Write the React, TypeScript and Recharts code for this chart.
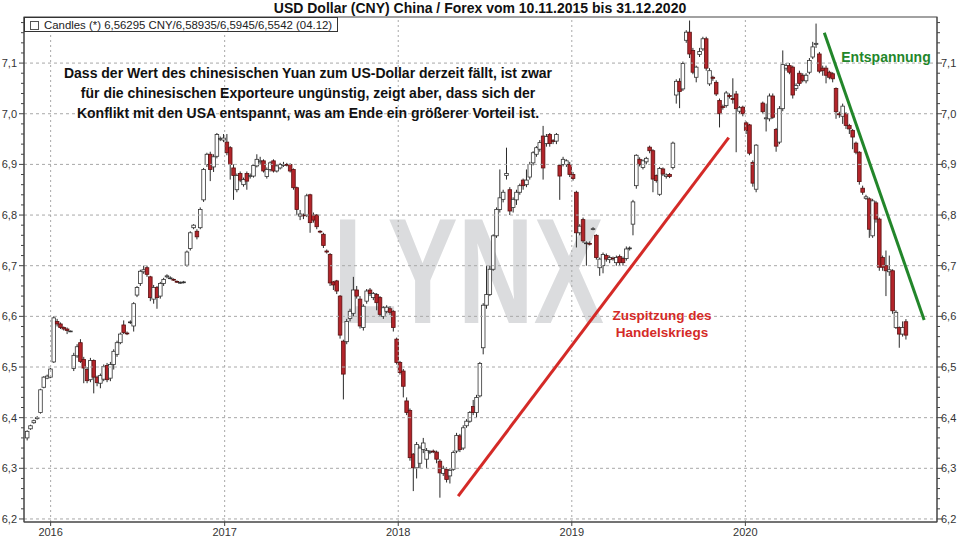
import React from 'react';
import { ComposedChart, Bar, XAxis, YAxis, ReferenceLine } from 'recharts';

// weekly candles [open, high, low, close], first week ends 13.11.2015
type Candle = [number, number, number, number] | null;

const START = Date.UTC(2015, 10, 13);
const WEEK = 7 * 86400000;

const W2015: Candle[] = [
  [6.36, 6.375, 6.355, 6.373], [6.378, 6.386, 6.376, 6.384], [6.39, 6.396, 6.388, 6.394],
  [6.398, 6.403, 6.396, 6.4], [6.41, 6.457, 6.408, 6.455], [6.46, 6.482, 6.458, 6.48],
  [6.478, 6.485, 6.476, 6.482],
];

const W2016: Candle[] = [
  [6.48, 6.498, 6.478, 6.496], [6.51, 6.6, 6.508, 6.597], [6.59, 6.595, 6.58, 6.585],
  [6.585, 6.588, 6.575, 6.578], [6.578, 6.58, 6.572, 6.575], [6.575, 6.578, 6.565, 6.572],
  [6.57, 6.572, 6.569, 6.571], [6.497, 6.528, 6.492, 6.523], [6.522, 6.545, 6.518, 6.54],
  [6.548, 6.555, 6.508, 6.511], [6.515, 6.52, 6.468, 6.498], [6.495, 6.5, 6.468, 6.473],
  [6.475, 6.518, 6.47, 6.513], [6.513, 6.515, 6.448, 6.48], [6.48, 6.483, 6.462, 6.469],
  [6.468, 6.487, 6.458, 6.483], [6.476, 6.505, 6.472, 6.501], [6.503, 6.508, 6.47, 6.475],
  [6.478, 6.51, 6.472, 6.505], [6.505, 6.535, 6.495, 6.531], [6.525, 6.552, 6.52, 6.548],
  [6.548, 6.568, 6.545, 6.565], [6.583, 6.592, 6.565, 6.568], [6.567, 6.57, 6.563, 6.566],
  [6.588, 6.592, 6.585, 6.589], [6.581, 6.628, 6.57, 6.625], [6.642, 6.66, 6.638, 6.657],
  [6.665, 6.692, 6.66, 6.689], [6.688, 6.7, 6.684, 6.692], [6.696, 6.7, 6.678, 6.683],
  [6.678, 6.68, 6.63, 6.637], [6.634, 6.662, 6.625, 6.657], [6.657, 6.66, 6.615, 6.637],
  [6.64, 6.668, 6.635, 6.665], [6.665, 6.676, 6.66, 6.673], [6.678, 6.683, 6.675, 6.68],
  [6.675, 6.679, 6.673, 6.676], [6.673, 6.675, 6.67, 6.672], [6.669, 6.671, 6.666, 6.668],
  [6.667, 6.669, 6.664, 6.667], [6.667, 6.67, 6.665, 6.668], [6.701, 6.73, 6.698, 6.727],
  [6.734, 6.768, 6.73, 6.765], [6.775, 6.782, 6.772, 6.78], [6.768, 6.772, 6.752, 6.757],
  [6.775, 6.815, 6.772, 6.811], [6.83, 6.893, 6.826, 6.89], [6.9, 6.923, 6.895, 6.92],
  [6.92, 6.925, 6.867, 6.89], [6.895, 6.92, 6.885, 6.915], [6.916, 6.962, 6.912, 6.959],
  [6.95, 6.955, 6.946, 6.951],
];

const W2017: Candle[] = [
  [6.948, 6.96, 6.944, 6.952], [6.944, 6.96, 6.918, 6.923], [6.933, 6.936, 6.87, 6.9],
  [6.893, 6.9, 6.83, 6.878], [6.85, 6.882, 6.845, 6.878], [6.882, 6.886, 6.865, 6.869],
  [6.86, 6.874, 6.856, 6.87], [6.882, 6.886, 6.85, 6.867], [6.876, 6.882, 6.872, 6.878],
  [6.877, 6.9, 6.874, 6.898], [6.897, 6.92, 6.894, 6.91], [6.905, 6.915, 6.9, 6.907],
  [6.907, 6.91, 6.884, 6.887], [6.876, 6.894, 6.872, 6.89], [6.89, 6.906, 6.886, 6.903],
  [6.907, 6.91, 6.884, 6.887], [6.887, 6.9, 6.884, 6.897], [6.893, 6.903, 6.89, 6.9],
  [6.898, 6.905, 6.895, 6.9], [6.9, 6.903, 6.896, 6.899], [6.9, 6.902, 6.884, 6.887],
  [6.89, 6.892, 6.85, 6.854], [6.854, 6.856, 6.8, 6.811], [6.798, 6.81, 6.79, 6.802],
  [6.8, 6.803, 6.792, 6.799], [6.8, 6.842, 6.796, 6.838], [6.84, 6.842, 6.765, 6.785],
  [6.8, 6.805, 6.785, 6.79], [6.8, 6.802, 6.772, 6.777], [6.768, 6.77, 6.764, 6.767],
  [6.762, 6.765, 6.735, 6.74], [6.729, 6.732, 6.724, 6.727], [6.722, 6.725, 6.66, 6.666],
  [6.668, 6.67, 6.652, 6.662], [6.67, 6.672, 6.644, 6.65], [6.64, 6.642, 6.556, 6.563],
  [6.551, 6.554, 6.436, 6.486], [6.55, 6.595, 6.545, 6.59], [6.596, 6.615, 6.59, 6.61],
  [6.606, 6.678, 6.6, 6.652], [6.652, 6.66, 6.635, 6.64], [6.634, 6.64, 6.576, 6.581],
  [6.578, 6.624, 6.572, 6.62], [6.63, 6.654, 6.625, 6.65], [6.652, 6.656, 6.64, 6.645],
  [6.637, 6.648, 6.632, 6.645], [6.643, 6.646, 6.612, 6.627], [6.637, 6.64, 6.6, 6.604],
  [6.6, 6.62, 6.595, 6.617], [6.61, 6.622, 6.606, 6.618], [6.615, 6.62, 6.603, 6.608],
  [6.61, 6.612, 6.57, 6.578],
];

const W2018: Candle[] = [
  [6.555, 6.558, 6.505, 6.509], [6.509, 6.512, 6.485, 6.489], [6.492, 6.496, 6.44, 6.462],
  [6.433, 6.44, 6.405, 6.41], [6.414, 6.418, 6.315, 6.321], [6.328, 6.33, 6.255, 6.301],
  [6.301, 6.352, 6.28, 6.347], [6.31, 6.345, 6.3, 6.34], [6.337, 6.36, 6.33, 6.35],
  [6.318, 6.34, 6.3, 6.335], [6.332, 6.336, 6.328, 6.333], [6.334, 6.337, 6.33, 6.333],
  [6.332, 6.335, 6.31, 6.318], [6.314, 6.318, 6.242, 6.291], [6.29, 6.305, 6.285, 6.3],
  [6.298, 6.302, 6.272, 6.278], [6.285, 6.3, 6.27, 6.296], [6.298, 6.335, 6.295, 6.331],
  [6.334, 6.37, 6.33, 6.365], [6.364, 6.368, 6.332, 6.337], [6.34, 6.385, 6.336, 6.38],
  [6.384, 6.397, 6.38, 6.393], [6.393, 6.413, 6.39, 6.41], [6.422, 6.435, 6.405, 6.41],
  [6.41, 6.445, 6.4, 6.44], [6.443, 6.51, 6.44, 6.507], [6.538, 6.626, 6.525, 6.622],
  [6.622, 6.7, 6.615, 6.643], [6.643, 6.7, 6.64, 6.693], [6.693, 6.762, 6.69, 6.759],
  [6.759, 6.815, 6.755, 6.811], [6.811, 6.89, 6.805, 6.834], [6.831, 6.85, 6.825, 6.845],
  [6.878, 6.933, 6.87, 6.882], [6.85, 6.855, 6.8, 6.808], [6.815, 6.835, 6.805, 6.831],
  [6.83, 6.85, 6.82, 6.845], [6.845, 6.862, 6.84, 6.858], [6.869, 6.872, 6.85, 6.858],
  [6.86, 6.89, 6.855, 6.869], [6.875, 6.905, 6.87, 6.9], [6.903, 6.926, 6.898, 6.923],
  [6.92, 6.936, 6.915, 6.933], [6.93, 6.948, 6.925, 6.943], [6.956, 6.976, 6.87, 6.893],
  [6.941, 6.96, 6.935, 6.955], [6.959, 6.962, 6.935, 6.941], [6.947, 6.95, 6.94, 6.945],
  [6.946, 6.962, 6.94, 6.959], [6.898, 6.9, 6.83, 6.877], [6.9, 6.915, 6.896, 6.91],
  [6.9, 6.91, 6.895, 6.907], [6.9, 6.905, 6.875, 6.88],
];

const W2019: Candle[] = [
  [6.88, 6.885, 6.868, 6.872], [6.845, 6.848, 6.736, 6.765], [6.765, 6.782, 6.76, 6.778],
  [6.791, 6.795, 6.745, 6.749], [6.744, 6.748, 6.7, 6.745], [6.744, 6.748, 6.74, 6.743],
  [6.772, 6.776, 6.77, 6.773], [6.76, 6.762, 6.712, 6.716], [6.696, 6.716, 6.68, 6.713],
  [6.7, 6.726, 6.685, 6.722], [6.72, 6.724, 6.708, 6.713], [6.712, 6.72, 6.705, 6.716],
  [6.715, 6.718, 6.71, 6.714], [6.706, 6.72, 6.7, 6.716], [6.718, 6.722, 6.7, 6.706],
  [6.714, 6.718, 6.7, 6.706], [6.714, 6.738, 6.71, 6.733], [6.734, 6.738, 6.73, 6.735],
  [6.782, 6.83, 6.76, 6.826], [6.858, 6.92, 6.852, 6.918], [6.91, 6.914, 6.896, 6.9],
  [6.894, 6.91, 6.89, 6.907], [6.905, 6.915, 6.9, 6.912], [6.934, 6.937, 6.922, 6.927],
  [6.927, 6.93, 6.845, 6.871], [6.878, 6.88, 6.864, 6.868], [6.841, 6.895, 6.838, 6.892],
  [6.891, 6.894, 6.877, 6.881], [6.876, 6.882, 6.872, 6.879], [6.88, 6.883, 6.873, 6.876],
  [6.894, 6.945, 6.89, 6.942], [7.037, 7.068, 7.02, 7.064], [7.064, 7.07, 7.011, 7.044],
  [7.049, 7.103, 7.045, 7.099], [7.145, 7.165, 7.14, 7.161], [7.161, 7.184, 7.11, 7.118],
  [7.125, 7.13, 7.078, 7.082], [7.072, 7.095, 7.062, 7.092], [7.117, 7.13, 7.112, 7.123],
  [7.128, 7.152, 7.124, 7.148], [7.148, 7.152, 7.085, 7.09], [7.059, 7.09, 7.055, 7.085],
  [7.072, 7.075, 7.065, 7.07], [7.062, 7.066, 7.035, 7.039], [7.026, 7.03, 6.973, 7.0],
  [7.014, 7.018, 7.008, 7.013], [7.016, 7.045, 7.012, 7.041], [7.036, 7.04, 7.03, 7.034],
  [7.03, 7.07, 7.02, 7.028], [7.039, 7.045, 6.924, 7.01], [7.005, 7.015, 7.0, 7.012],
  [7.013, 7.016, 6.995, 7.0],
];

const W2020: Candle[] = [
  [6.982, 6.985, 6.96, 6.967], [6.978, 6.98, 6.918, 6.922], [6.904, 6.908, 6.856, 6.863],
  [6.851, 6.94, 6.845, 6.938], null, [7.021, 7.024, 7.0, 7.004],
  [6.99, 7.02, 6.965, 6.992], [6.99, 7.04, 6.985, 7.035], [7.035, 7.04, 6.99, 6.993],
  [6.969, 6.972, 6.925, 6.936], [6.944, 7.015, 6.94, 7.01], [7.01, 7.125, 7.005, 7.097],
  [7.09, 7.1, 7.085, 7.095], [7.095, 7.1, 7.078, 7.082], [7.092, 7.095, 7.03, 7.037],
  [7.05, 7.06, 7.045, 7.056], [7.08, 7.085, 7.055, 7.06], [7.076, 7.08, 7.062, 7.066],
  [7.065, 7.08, 7.06, 7.076], [7.082, 7.11, 7.078, 7.105], [7.112, 7.142, 7.108, 7.132],
  [7.137, 7.178, 7.13, 7.139], [7.118, 7.122, 7.08, 7.084], [7.09, 7.095, 7.075, 7.085],
  [7.09, 7.095, 7.06, 7.076], [7.082, 7.085, 7.068, 7.072], [7.079, 7.082, 7.062, 7.069],
  [7.05, 7.052, 6.99, 7.004], [7.0, 7.004, 6.992, 6.998], [6.995, 7.02, 6.98, 7.015],
  [7.0, 7.003, 6.97, 6.977], [6.977, 6.98, 6.96, 6.97], [6.967, 6.97, 6.93, 6.954],
  [6.942, 6.945, 6.92, 6.924], [6.924, 6.926, 6.86, 6.866], [6.853, 6.858, 6.84, 6.845],
  [6.833, 6.84, 6.83, 6.836], [6.832, 6.835, 6.755, 6.772], [6.759, 6.832, 6.755, 6.828],
  [6.824, 6.828, 6.785, 6.792], [6.792, 6.795, 6.69, 6.697], [6.716, 6.72, 6.69, 6.697],
  [6.7, 6.73, 6.64, 6.69], [6.688, 6.72, 6.68, 6.692], [6.69, 6.693, 6.605, 6.611],
  [6.578, 6.612, 6.575, 6.608], [6.578, 6.58, 6.538, 6.565], [6.565, 6.59, 6.56, 6.578],
  [6.58935, 6.5945, 6.5542, 6.56295],
];

const YEARS = [2016, 2017, 2018, 2019, 2020];
const Y_MAJOR = [6.2, 6.3, 6.4, 6.5, 6.6, 6.7, 6.8, 6.9, 7.0, 7.1];
const Y_DOMAIN = [6.194, 7.191];
const X_DOMAIN = [Date.UTC(2015, 10, 6), Date.UTC(2021, 1, 7)];

// annotation lines: [date, value] pairs
const RED_LINE = [[Date.UTC(2018, 4, 7), 6.245], [Date.UTC(2019, 10, 27), 6.953]];
const GREEN_LINE = [[Date.UTC(2020, 5, 15), 7.16], [Date.UTC(2021, 0, 11), 6.593]];

const TEXT_LINES = [
  'Dass der Wert des chinesischen Yuan zum US-Dollar derzeit fällt, ist zwar',
  'für die chinesischen Exporteure ungünstig, zeigt aber, dass sich der',
  'Konflikt mit den USA entspannt, was am Ende ein größerer Vorteil ist.',
];

const rows = [...W2015, ...W2016, ...W2017, ...W2018, ...W2019, ...W2020].map((c, i) => ({
  t: START + i * WEEK,
  o: c ? c[0] : null,
  h: c ? c[1] : null,
  l: c ? c[2] : null,
  c: c ? c[3] : null,
  range: c ? [c[2], c[1]] : null,
}));

const yTicks: number[] = [];
Y_MAJOR.forEach((m) => {
  for (let k = 0; k < 5; k++) {
    const v = Math.round((m + k * 0.02) * 1000) / 1000;
    if (v < Y_DOMAIN[1]) yTicks.push(v);
  }
});

const isMajor = (v: number) => Math.abs(v * 10 - Math.round(v * 10)) < 1e-6;
const fmt = (v: number) => v.toFixed(1).replace('.', ',');
const FONT = '"Liberation Sans", Arial, sans-serif';
const AXIS = '#444';

function CandleShape(props: any) {
  const { x, y, width, height, payload } = props;
  if (!payload || payload.o == null || x == null) return null;
  const { o, h, l, c } = payload;
  const top = Math.min(y, y + height);
  const bot = Math.max(y, y + height);
  const k = (bot - top) / (h - l || 1);
  const py = (v: number) => top + (h - v) * k;
  const cx = x + width / 2;
  const up = c >= o;
  const bTop = py(Math.max(o, c));
  const bBot = py(Math.min(o, c));
  return (
    <g>
      <line x1={cx} x2={cx} y1={top} y2={bot} stroke="#2a2a2a" strokeWidth={1} />
      <rect
        x={cx - 1.8}
        y={bTop}
        width={3.6}
        height={Math.max(bBot - bTop, 0.8)}
        fill={up ? '#ffffff' : '#b3242a'}
        stroke={up ? '#333' : '#5a1212'}
        strokeWidth={0.8}
      />
    </g>
  );
}

function LeftTick(props: any) {
  const { x, y, payload } = props;
  const major = isMajor(payload.value);
  return (
    <g>
      <line x1={x - (major ? 5 : 3)} x2={x} y1={y} y2={y} stroke={AXIS} />
      {major && (
        <text x={x - 7} y={y} dy="0.36em" textAnchor="end" fontSize={11} fill="#333" fontFamily={FONT}>
          {fmt(payload.value)}
        </text>
      )}
    </g>
  );
}

function RightTick(props: any) {
  const { x, y, payload } = props;
  const major = isMajor(payload.value);
  return (
    <g>
      <line x1={x} x2={x + (major ? 5 : 3)} y1={y} y2={y} stroke={AXIS} />
      {major && (
        <text x={x + 4} y={y} dy="0.36em" textAnchor="start" fontSize={11} fill="#333" fontFamily={FONT}>
          {fmt(payload.value)}
        </text>
      )}
    </g>
  );
}

export default function App() {
  return (
    <div style={{ position: 'fixed', left: 0, top: 0, width: 960, height: 540, background: '#fff', overflow: 'hidden', fontFamily: FONT }}>
      {/* watermark below the chart */}
      <svg width={960} height={540} style={{ position: 'absolute', left: 0, top: 0 }}>
        <text x={333} y={323} fontSize={151} fontWeight="bold" fill="#dbdcde" textLength={271} lengthAdjust="spacingAndGlyphs" fontFamily={FONT}>
          LYNX
        </text>
      </svg>

      <div style={{ position: 'absolute', left: 0, top: 0 }}>
        <ComposedChart width={960} height={540} data={rows} margin={{ top: 17, right: 0, bottom: 0, left: 0 }}>
          <XAxis
            xAxisId="x"
            dataKey="t"
            type="number"
            scale="linear"
            domain={X_DOMAIN}
            allowDataOverflow
            ticks={YEARS.map((y) => Date.UTC(y, 0, 1))}
            tickFormatter={(v: number) => String(new Date(v).getUTCFullYear())}
            height={18}
            tickSize={4}
            tickMargin={2}
            interval={0}
            stroke={AXIS}
            tick={{ fontSize: 11, fill: '#333', fontFamily: FONT }}
          />
          <YAxis
            yAxisId="l"
            orientation="left"
            type="number"
            domain={Y_DOMAIN}
            allowDataOverflow
            ticks={yTicks}
            interval={0}
            width={24}
            tickSize={0}
            tickMargin={0}
            tickLine={false}
            stroke={AXIS}
            tick={<LeftTick />}
          />
          <YAxis
            yAxisId="r"
            orientation="right"
            type="number"
            domain={Y_DOMAIN}
            allowDataOverflow
            ticks={yTicks}
            interval={0}
            width={23}
            tickSize={0}
            tickMargin={0}
            tickLine={false}
            stroke={AXIS}
            tick={<RightTick />}
          />

          {Y_MAJOR.map((v) => (
            <ReferenceLine key={'h' + v} xAxisId="x" yAxisId="l" y={v} stroke="#a8a8a8" strokeDasharray="3 3" />
          ))}
          {YEARS.map((y) => (
            <ReferenceLine key={'v' + y} xAxisId="x" yAxisId="l" x={Date.UTC(y, 0, 1)} stroke="#a8a8a8" strokeDasharray="2 3" />
          ))}

          <Bar
            xAxisId="x"
            yAxisId="l"
            dataKey="range"
            barSize={3}
            shape={<CandleShape />}
            isAnimationActive={false}
          />

          <ReferenceLine
            xAxisId="x"
            yAxisId="l"
            segment={RED_LINE.map(([x, y]) => ({ x, y }))}
            stroke="#d42a27"
            strokeWidth={3}
            ifOverflow="visible"
          />
          <ReferenceLine
            xAxisId="x"
            yAxisId="l"
            segment={GREEN_LINE.map(([x, y]) => ({ x, y }))}
            stroke="#22862a"
            strokeWidth={3}
            ifOverflow="visible"
          />
        </ComposedChart>
      </div>

      {/* texts, legend and frame on top */}
      <svg width={960} height={540} style={{ position: 'absolute', left: 0, top: 0, pointerEvents: 'none' }} fontFamily={FONT}>
        <rect x={24} y={17} width={913} height={505} fill="none" stroke={AXIS} strokeWidth={1} />
        <text x={480} y={13} textAnchor="middle" fontSize={14} fontWeight="bold" fill="#111">
          USD Dollar (CNY) China / Forex vom 10.11.2015 bis 31.12.2020
        </text>
        <rect x={24.5} y={17.5} width={313} height={14} fill="#fff" stroke="#333" />
        <rect x={30.5} y={21.5} width={8} height={8} fill="#fff" stroke="#555" />
        <text x={44} y={28.5} fontSize={11.4} fill="#222">
          Candles (*) 6,56295 CNY/6,58935/6,5945/6,5542 (04.12)
        </text>
        {TEXT_LINES.map((s, i) => (
          <text key={i} x={308} y={77.5 + i * 20} textAnchor="middle" fontSize={14} fontWeight="bold" fill="#111">
            {s}
          </text>
        ))}
        <text x={886} y={62} textAnchor="middle" fontSize={14} fontWeight="bold" fill="#22862a">
          Entspannung
        </text>
        <text x={662} y={319.5} textAnchor="middle" fontSize={13.5} fontWeight="bold" fill="#d42a27">
          Zuspitzung des
        </text>
        <text x={662} y={336.5} textAnchor="middle" fontSize={13.5} fontWeight="bold" fill="#d42a27">
          Handelskriegs
        </text>
      </svg>
    </div>
  );
}
